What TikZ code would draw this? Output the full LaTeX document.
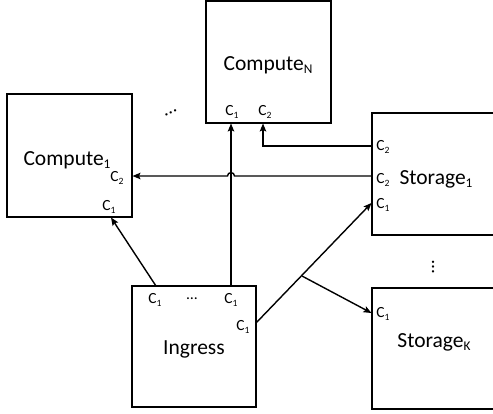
\documentclass[tikz,border=0pt]{standalone}
\usepackage{fontspec}
\setmainfont{Carlito}
\usetikzlibrary{arrows.meta}
\newcommand\mysub[1]{\raisebox{-0.32ex}{\scalebox{0.62}{#1}}}
\tikzset{
  box/.style={draw, line width=1.4pt, minimum width=125pt, minimum height=122pt, inner sep=0pt},
  big/.style={inner sep=0pt, font=\fontsize{21.5}{26}\selectfont},
  port/.style={inner sep=0pt, font=\fontsize{15.5}{18}\selectfont},
  conn/.style={line width=1.4pt},
  arr/.style={conn, -{Stealth[length=8pt,width=6.5pt,inset=1.5pt]}}
}
\begin{document}
\begin{tikzpicture}[x=1pt,y=-1pt]
\useasboundingbox (0,0) rectangle (493,413);
% boxes
\node[box, minimum height=123pt] (comp1) at (69.5,155.5) {};
\node[box, minimum height=122pt] (compN) at (268.5,62) {};
\node[box, minimum height=122pt] (stor1) at (434.5,174) {};
\node[box, minimum height=121pt] (storK) at (434.5,348.5) {};
\node[box, minimum width=124pt, minimum height=121pt] (ingress) at (194,346.5) {};
% main labels
\node[big] (t1) at (67,160) {Compute\mysub{1}};
\node[big] (tN) at (268,65) {Compute\mysub{N}};
\node[big] (tS1) at (436,179) {Storage\mysub{1}};
\node[big] (tSK) at (434,342) {Storage\mysub{K}};
\node[big] (tI) at (194,349) {Ingress};
% ports
\node[port] (c1c2) at (117,178) {C\mysub{2}};
\node[port] (c1c1) at (109,207) {C\mysub{1}};
\node[port] (cNc1) at (232,112) {C\mysub{1}};
\node[port] (cNc2) at (265,112) {C\mysub{2}};
\node[port] (s1a) at (383,147) {C\mysub{2}};
\node[port] (s1b) at (383,180) {C\mysub{2}};
\node[port] (s1c) at (383,205) {C\mysub{1}};
\node[port] (sKc1) at (383,314) {C\mysub{1}};
\node[port] (ia) at (155,300) {C\mysub{1}};
\node[port] (idots) at (192,299) {…};
\node[port] (ib) at (231,300) {C\mysub{1}};
\node[port] (ic) at (243,327) {C\mysub{1}};
% ellipses
\node[port, font=\fontsize{19}{20}\selectfont, rotate=25] (dd) at (171,113) {…};
\node[port, font=\fontsize{19}{20}\selectfont, rotate=-90] (vd) at (433,267) {…};
% connection points
\coordinate (i1) at (156,286);
\coordinate (i2) at (231,286);
\coordinate (i3) at (256,323);
\coordinate (c1b) at (111,217.5);
\coordinate (c1r) at (132.5,176);
\coordinate (cNb1) at (231,123.5);
\coordinate (cNb2) at (263,123.5);
\coordinate (s1p1) at (372,146);
\coordinate (s1p2) at (372,176);
\coordinate (s1p3) at (371.5,203);
\coordinate (br) at (302,276);
\coordinate (sKp) at (371.5,313);
% connectors
\draw[arr] (i1) -- (c1b);
\draw[arr] (i2) -- (cNb1);
\draw[arr] (s1p1) -| (cNb2);
\draw[arr] (s1p2) -- (234.5,176) .. controls (234.5,171.5) and (227.5,171.5) .. (227.5,176) -- (c1r);
\draw[arr] (i3) -- (s1p3);
\draw[arr] (br) -- (sKp);
\end{tikzpicture}
\end{document}
